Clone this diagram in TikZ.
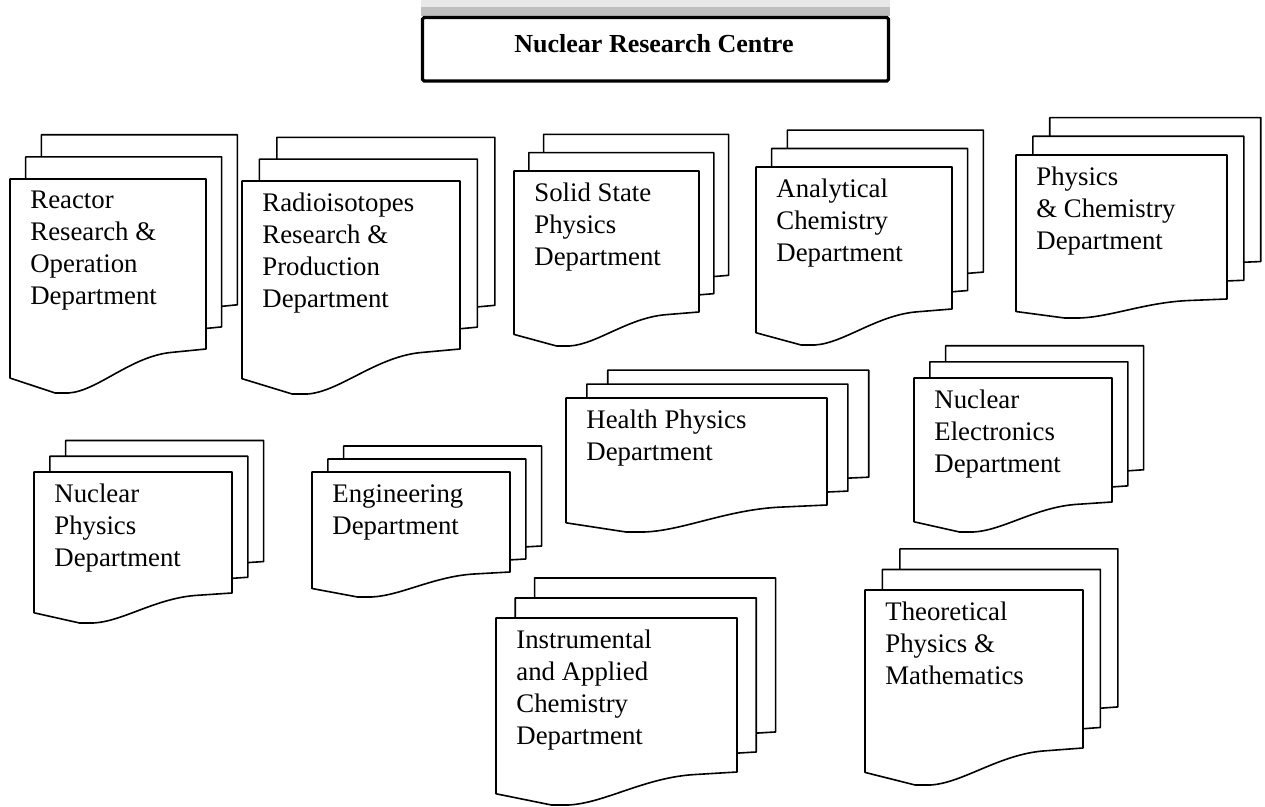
\documentclass[tikz,border=0pt]{standalone}
\usepackage{fontspec}
\setmainfont{Liberation Serif}

\tikzset{
  sheet/.style={draw=black, fill=white, line width=0.8pt, line join=round},
  depttext/.style={anchor=north west, inner sep=0pt, align=left,
    font=\fontsize{13.4}{16}\selectfont},
  titleframe/.style={draw=black, line width=1.6pt, rounded corners=0.8pt},
  titletext/.style={inner sep=0pt, font=\fontsize{13}{16}\selectfont\bfseries}
}

% one sheet: left, top, width, height, wave depth (pixel units)
\newcommand\docsheet[5]{%
  \pgfmathsetmacro\shL{#1}%
  \pgfmathsetmacro\shT{#2}%
  \pgfmathsetmacro\shR{#1+#3}%
  \pgfmathsetmacro\shB{#2+#4}%
  \filldraw[sheet] (\shL,\shT) -- (\shR,\shT) -- (\shR,\shB)
    -- (\shL+0.83*#3,\shB+0.075*#5)
    .. controls (\shL+0.62*#3,\shB+0.15*#5) and (\shL+0.45*#3,\shB+0.95*#5) .. (\shL+0.3*#3,\shB+#5)
    -- (\shL+0.23*#3,\shB+#5) -- (\shL,\shB+0.66*#5) -- cycle;
}

% stack of three sheets with its text: name, left, top, width, height, wave, text
\newcommand\deptstack[7]{%
  \pgfmathsetmacro\stdx{0.08*#4}%
  \pgfmathsetmacro\stdy{0.13*#5}%
  \docsheet{#2+2*\stdx}{#3-2*\stdy}{#4}{#5}{#6}
  \docsheet{#2+\stdx}{#3-\stdy}{#4}{#5}{#6}
  \docsheet{#2}{#3}{#4}{#5}{#6}
  \node[depttext] (#1) at (#2+20,#3+12) {#7};
}

\begin{document}
\begin{tikzpicture}[x=0.5pt, y=-0.5pt]
\useasboundingbox (0,0) rectangle (1265,807);

% header
\fill[gray!18] (421,0) rectangle (890,7.5);
\fill[gray!50] (421,7.5) rectangle (890,16);
\draw[titleframe] (422.5,17.5) rectangle (888.5,81);
\node[titletext] (nrc) at (654,44) {Nuclear Research Centre};

% top row
\deptstack{reactor}{10}{179}{196}{170}{44}{Reactor\\Research \&\\Operation\\Department}
\deptstack{radio}{242}{181}{218}{168}{45}{Radioisotopes\\Research \&\\Production\\Department}
\deptstack{solid}{514}{171}{185}{141}{34}{Solid State\\Physics\\Department}
\deptstack{analytical}{756}{167}{196}{142}{36}{Analytical\\Chemistry\\Department}
\deptstack{physchem}{1016}{155}{211}{144}{19}{Physics\\\& Chemistry\\Department}

% middle row
\deptstack{health}{566}{398}{261}{107}{27}{Health Physics\\Department}
\deptstack{electronics}{914}{378}{198}{124}{30}{Nuclear\\Electronics\\Department}
\deptstack{nucphys}{34}{472}{198}{121}{30}{Nuclear\\Physics\\Department}
\deptstack{engineering}{312}{472}{198}{100}{25}{Engineering\\Department}

% bottom row
\deptstack{instrumental}{496}{618}{241}{154}{33}{Instrumental\\and Applied\\Chemistry\\Department}
\deptstack{theoretical}{865}{590}{218}{158}{37}{Theoretical\\Physics \&\\Mathematics}

\end{tikzpicture}
\end{document}
